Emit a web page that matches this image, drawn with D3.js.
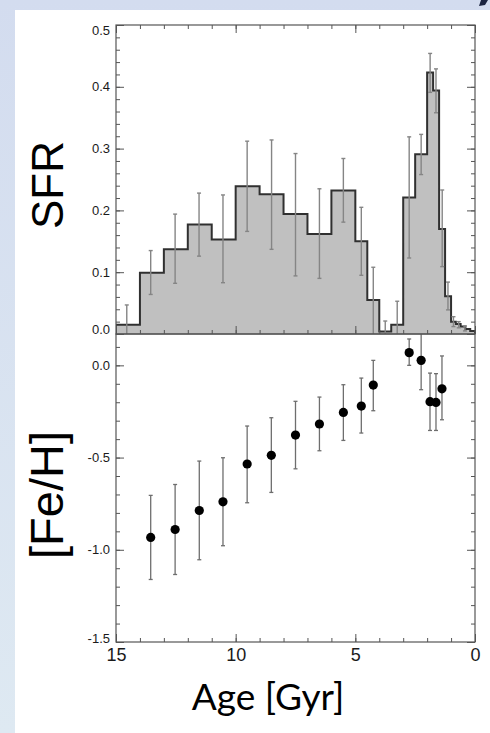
<!DOCTYPE html>
<html>
<head>
<meta charset="utf-8">
<script src="https://cdn.jsdelivr.net/npm/d3@7"></script>
<style>
  html, body { margin: 0; padding: 0; }
  body { width: 490px; height: 733px; overflow: hidden; }
  svg { display: block; }
</style>
</head>
<body>
<svg id="chart" width="490" height="733"></svg>
<script>
// Star formation history: histogram bin edges (age, Gyr) and SFR per bin
const sfrEdges = [15, 14, 13, 12, 11, 10, 9, 8, 7, 6, 5, 4.5, 4, 3.5, 3, 2.5, 2, 1.75, 1.5, 1.25, 1, 0.8, 0.6, 0.4, 0.2, 0];
const sfrValues = [0.015, 0.099, 0.137, 0.177, 0.153, 0.239, 0.226, 0.194, 0.162, 0.232, 0.150, 0.055, 0.004, 0.015, 0.221, 0.291, 0.423, 0.394, 0.170, 0.061, 0.020, 0.016, 0.012, 0.008, 0.005];

// SFR uncertainty ranges
const sfrErrAge = [14.55, 13.55, 12.53, 11.53, 10.53, 9.52, 8.5, 7.5, 6.5, 5.5, 4.75, 4.25, 3.75, 3.25, 2.75, 2.25, 1.875, 1.63, 1.37, 1.13, 0.9, 0.68, 0.42];
const sfrErrHi = [0.047, 0.135, 0.194, 0.228, 0.225, 0.312, 0.314, 0.292, 0.235, 0.284, 0.205, 0.108, 0.021, 0.053, 0.319, 0.323, 0.454, 0.429, 0.233, 0.084, 0.028, 0.020, 0.013];
const sfrErrLo = [0, 0.064, 0.082, 0.126, 0.083, 0.166, 0.137, 0.094, 0.090, 0.181, 0.095, 0, 0, 0, 0.123, 0.258, 0.391, 0.358, 0.109, 0.039, 0.012, 0.010, 0.005];

// Age-metallicity relation
const feAge = [13.55, 12.53, 11.52, 10.53, 9.52, 8.51, 7.5, 6.5, 5.5, 4.75, 4.25, 2.75, 2.25, 1.88, 1.63, 1.38];
const feValues = [-0.933, -0.890, -0.787, -0.740, -0.535, -0.488, -0.378, -0.318, -0.255, -0.221, -0.107, 0.069, 0.027, -0.197, -0.201, -0.127];
const feHi = [-0.705, -0.646, -0.519, -0.501, -0.329, -0.284, -0.195, -0.172, -0.105, -0.069, 0.027, 0.143, 0.22, -0.042, -0.045, 0.051];
const feLo = [-1.161, -1.134, -1.054, -0.978, -0.745, -0.689, -0.561, -0.463, -0.407, -0.367, -0.246, 0.0, -0.132, -0.353, -0.353, -0.295];

// Tick values
const ageTicks = [15, 10, 5, 0];
const ageMinor = d3.range(0, 16, 1);
const sfrTicks = [0, 0.1, 0.2, 0.3, 0.4, 0.5];
const sfrMinor = d3.range(0, 0.501, 0.02);
const feTicks = [-1.5, -1.0, -0.5, 0.0];
const feMinor = d3.range(-1.5, 0.17, 0.1);

const svg = d3.select("#chart");

// backdrop
const defs = svg.append("defs");
const grad = defs.append("linearGradient").attr("id", "bg").attr("x1", 0).attr("y1", 0).attr("x2", 0).attr("y2", 1);
grad.append("stop").attr("offset", 0).attr("stop-color", "#d3dcef");
grad.append("stop").attr("offset", 1).attr("stop-color", "#dee9f2");
svg.append("rect").attr("width", 490).attr("height", 733).attr("fill", "url(#bg)");
svg.append("rect").attr("x", 15).attr("y", 10).attr("width", 475).attr("height", 723).attr("fill", "#ffffff");
svg.append("path").attr("d", "M481,0 L488,0 L485,5 L479,6 Z").attr("fill", "#1b2440");

const left = 116, right = 475;
const topY = 25, midY = 334, botY = 642;

const x = d3.scaleLinear().domain([15, 0]).range([left, right]);
const ySfr = d3.scaleLinear().domain([0, 0.5]).range([midY, topY]);
const yFe = d3.scaleLinear().domain([-1.5, 0.17]).range([botY, midY]);

defs.append("clipPath").attr("id", "clipTop")
  .append("rect").attr("x", left).attr("y", topY).attr("width", right - left).attr("height", midY - topY);
defs.append("clipPath").attr("id", "clipBot")
  .append("rect").attr("x", left).attr("y", midY).attr("width", right - left).attr("height", botY - midY);

// ---- upper panel: SFR histogram ----
const bins = sfrValues.map((v, i) => ({ x0: sfrEdges[i], x1: sfrEdges[i + 1], v }));
const topG = svg.append("g").attr("clip-path", "url(#clipTop)");

// step outline through the bin tops
let stepD = "M" + x(sfrEdges[0]) + "," + ySfr(0);
bins.forEach(d => {
  stepD += "L" + x(d.x0) + "," + ySfr(d.v) + "L" + x(d.x1) + "," + ySfr(d.v);
});
stepD += "L" + x(sfrEdges[sfrEdges.length - 1]) + "," + ySfr(0);

topG.append("path").attr("d", stepD + "Z").attr("fill", "#c0c0c0").attr("stroke", "none");
topG.append("path").attr("d", stepD).attr("fill", "none")
  .attr("stroke", "#303030").attr("stroke-width", 2).attr("stroke-linejoin", "miter");

// error bars
const sfrErr = sfrErrAge.map((a, i) => ({ a, lo: sfrErrLo[i], hi: sfrErrHi[i] }));
const eTop = topG.selectAll("g.err").data(sfrErr).enter().append("g").attr("class", "err")
  .attr("stroke", "#858585").attr("stroke-width", 1.4);
eTop.append("line").attr("x1", d => x(d.a)).attr("x2", d => x(d.a))
  .attr("y1", d => ySfr(d.lo)).attr("y2", d => ySfr(d.hi));
eTop.append("line").attr("x1", d => x(d.a) - 2).attr("x2", d => x(d.a) + 2)
  .attr("y1", d => ySfr(d.hi)).attr("y2", d => ySfr(d.hi));
eTop.filter(d => d.lo > 0).append("line").attr("x1", d => x(d.a) - 2).attr("x2", d => x(d.a) + 2)
  .attr("y1", d => ySfr(d.lo)).attr("y2", d => ySfr(d.lo));

// ---- lower panel: [Fe/H] ----
const feData = feAge.map((a, i) => ({ a, v: feValues[i], lo: feLo[i], hi: feHi[i] }));
const botG = svg.append("g").attr("clip-path", "url(#clipBot)");
const eBot = botG.selectAll("g.err").data(feData).enter().append("g").attr("class", "err")
  .attr("stroke", "#6e6e6e").attr("stroke-width", 1.3);
eBot.append("line").attr("x1", d => x(d.a)).attr("x2", d => x(d.a))
  .attr("y1", d => yFe(d.lo)).attr("y2", d => yFe(d.hi));
eBot.append("line").attr("x1", d => x(d.a) - 2).attr("x2", d => x(d.a) + 2)
  .attr("y1", d => yFe(d.hi)).attr("y2", d => yFe(d.hi));
eBot.append("line").attr("x1", d => x(d.a) - 2).attr("x2", d => x(d.a) + 2)
  .attr("y1", d => yFe(d.lo)).attr("y2", d => yFe(d.lo));
botG.selectAll("circle").data(feData).enter().append("circle")
  .attr("cx", d => x(d.a)).attr("cy", d => yFe(d.v)).attr("r", 4.6).attr("fill", "#000");

// ---- axes ----
const fmt = d => d.toFixed(1);
const axisColor = "#555";
const labelFont = "'Liberation Sans', Arial, Helvetica, sans-serif";

function addAxis(axis, tx, ty, fontSize) {
  const g = svg.append("g").attr("transform", `translate(${tx},${ty})`).call(axis);
  g.select(".domain").remove();
  g.selectAll(".tick line").attr("stroke", axisColor).attr("stroke-width", 1);
  g.attr("font-family", labelFont).attr("font-size", fontSize);
  g.selectAll(".tick text").attr("fill", "#1a1a1a");
  return g;
}

// x ticks, inward on the horizontal edges of both panels
addAxis(d3.axisTop(x).tickValues(ageTicks).tickSize(-8).tickFormat(""), 0, topY, 10);
addAxis(d3.axisTop(x).tickValues(ageMinor).tickSize(-4).tickFormat(""), 0, topY, 10);
addAxis(d3.axisBottom(x).tickValues(ageTicks).tickSize(-8).tickFormat(""), 0, midY, 10);
addAxis(d3.axisBottom(x).tickValues(ageMinor).tickSize(-4).tickFormat(""), 0, midY, 10);
addAxis(d3.axisBottom(x).tickValues(ageTicks).tickSize(-8).tickPadding(6).tickFormat(d3.format("d")), 0, botY, 18);
addAxis(d3.axisBottom(x).tickValues(ageMinor).tickSize(-4).tickFormat(""), 0, botY, 10);

// upper y axes
const ySfrAxis = addAxis(d3.axisLeft(ySfr).tickValues(sfrTicks).tickSize(-8).tickPadding(6).tickFormat(fmt), left, 0, 13);
addAxis(d3.axisLeft(ySfr).tickValues(sfrMinor).tickSize(-4).tickFormat(""), left, 0, 10);
addAxis(d3.axisRight(ySfr).tickValues(sfrTicks).tickSize(-8).tickFormat(""), right, 0, 10);
addAxis(d3.axisRight(ySfr).tickValues(sfrMinor).tickSize(-4).tickFormat(""), right, 0, 10);

// lower y axes
const yFeAxis = addAxis(d3.axisLeft(yFe).tickValues(feTicks).tickSize(-8).tickPadding(6).tickFormat(fmt), left, 0, 13);
addAxis(d3.axisLeft(yFe).tickValues(feMinor).tickSize(-4).tickFormat(""), left, 0, 10);
addAxis(d3.axisRight(yFe).tickValues(feTicks).tickSize(-8).tickFormat(""), right, 0, 10);
addAxis(d3.axisRight(yFe).tickValues(feMinor).tickSize(-4).tickFormat(""), right, 0, 10);

// keep the labels at the panel edges inside their panel
ySfrAxis.selectAll(".tick text").attr("y", d => d === 0.5 ? 5 : (d === 0 ? -5 : 0));
yFeAxis.selectAll(".tick text").attr("y", d => d === -1.5 ? -4 : 0);

// panel frames
svg.append("rect").attr("x", left).attr("y", topY).attr("width", right - left).attr("height", midY - topY)
  .attr("fill", "none").attr("stroke", axisColor).attr("stroke-width", 1.2);
svg.append("rect").attr("x", left).attr("y", midY).attr("width", right - left).attr("height", botY - midY)
  .attr("fill", "none").attr("stroke", axisColor).attr("stroke-width", 1.2);

// axis titles
svg.append("text").attr("transform", "translate(63,185) rotate(-90)")
  .attr("text-anchor", "middle").style("font-family", labelFont).style("font-size", "44px")
  .attr("fill", "#000").text("SFR");
svg.append("text").attr("transform", "translate(63,495) rotate(-90)")
  .attr("text-anchor", "middle").style("font-family", labelFont).style("font-size", "47px")
  .attr("fill", "#000").text("[Fe/H]");
svg.append("text").attr("x", 268).attr("y", 710)
  .attr("text-anchor", "middle").style("font-family", "Lato, 'Open Sans', sans-serif").style("font-size", "37px")
  .attr("fill", "#000").text("Age [Gyr]");
</script>
</body>
</html>
